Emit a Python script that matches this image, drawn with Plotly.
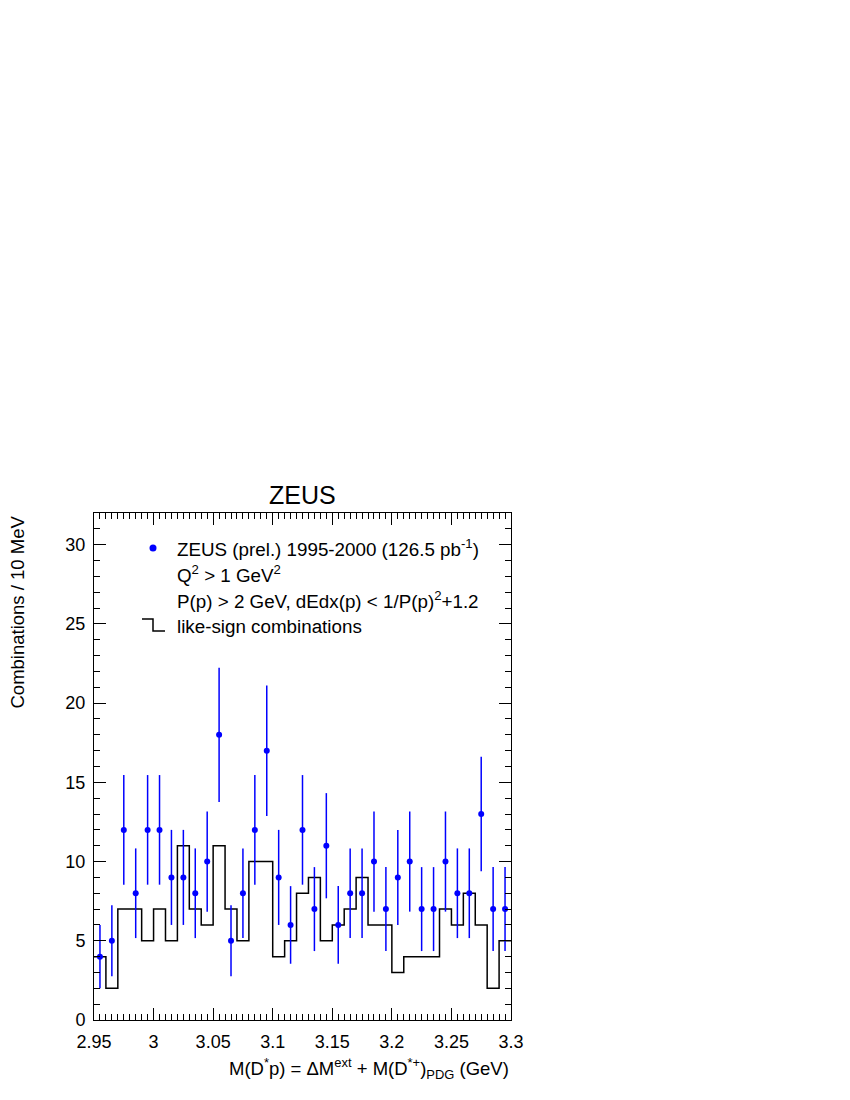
import numpy as np
import plotly.graph_objects as go

# ZEUS data points (bin centres, 10 MeV bins)
bin_centres = np.round(np.arange(2.955, 3.3, 0.01), 3)
counts = [4, 5, 12, 8, 12, 12, 9, 9, 8, 10, 18, 5, 8, 12, 17, 9, 6, 12,
          7, 11, 6, 8, 8, 10, 7, 9, 10, 7, 7, 10, 8, 8, 13, 7, 7]
errors = [2.0, 2.24, 3.46, 2.83, 3.46, 3.46, 3.0, 3.0, 2.83, 3.16, 4.24, 2.24,
          2.83, 3.46, 4.12, 3.0, 2.45, 3.46, 2.65, 3.32, 2.45, 2.83, 2.83, 3.16,
          2.65, 3.0, 3.16, 2.65, 2.65, 3.16, 2.83, 2.83, 3.61, 2.65, 2.65]

# like-sign combinations histogram
bin_edges = np.round(np.arange(2.95, 3.3001, 0.01), 3)
like_sign = [4, 2, 7, 7, 5, 7, 5, 11, 7, 6, 11, 7, 5, 10, 10, 4, 5, 8,
             9, 5, 6, 7, 9, 6, 6, 3, 4, 4, 4, 7, 6, 8, 6, 2, 5]

x_ticks = [2.95, 3.0, 3.05, 3.1, 3.15, 3.2, 3.25, 3.3]
x_ticklabels = ["2.95", "3", "3.05", "3.1", "3.15", "3.2", "3.25", "3.3"]

FONT = "Liberation Sans, Arial, Helvetica, sans-serif"
BLUE = "#0000ff"

# plot frame in page pixels (reference): left 94, right 511, top 513, bottom 1020
PX_L, PX_R, PX_T, PX_B = 94, 511, 513, 1020
W, H = PX_R - PX_L, PX_B - PX_T


def px(x):
    return (x - PX_L) / W


def py(y):
    return (PX_B - y) / H


fig = go.Figure()

fig.add_trace(go.Scatter(
    x=bin_edges, y=like_sign + [like_sign[-1]],
    mode="lines", line=dict(color="black", width=1.5, shape="hv"),
    showlegend=False, hoverinfo="skip",
))

fig.add_trace(go.Scatter(
    x=bin_centres, y=counts,
    mode="markers",
    marker=dict(color=BLUE, size=6),
    error_y=dict(type="data", array=errors, color=BLUE, thickness=1.5, width=0),
    showlegend=False,
))

axis_common = dict(
    showline=True, linecolor="black", linewidth=1, mirror="allticks",
    ticks="inside", tickcolor="black", showgrid=False, zeroline=False,
    tickfont=dict(family=FONT, size=18, color="black"),
)

fig.update_xaxes(
    range=[2.95, 3.3], tickvals=x_ticks, ticktext=x_ticklabels,
    ticklen=12, ticklabelstandoff=5,
    minor=dict(dtick=0.005, tick0=2.95, ticklen=6, ticks="inside", tickcolor="black"),
    **axis_common,
)
fig.update_yaxes(
    range=[0, 32], dtick=5, tick0=0, ticklen=12, ticklabelstandoff=4,
    minor=dict(dtick=1, ticklen=6, ticks="inside", tickcolor="black"),
    **axis_common,
)

# legend drawn by hand, ROOT style
legend_lines = [
    "ZEUS (prel.) 1995-2000 (126.5 pb<sup>-1</sup>)",
    "Q<sup>2</sup> > 1 GeV<sup>2</sup>",
    "P(p) > 2 GeV, dEdx(p) < 1/P(p)<sup>2</sup>+1.2",
    "like-sign combinations",
]
legend_y = [548, 574, 600, 626]
for txt, yp in zip(legend_lines, legend_y):
    fig.add_annotation(
        text=txt, xref="paper", yref="paper", x=px(175), y=py(yp),
        xanchor="left", yanchor="middle", showarrow=False,
        font=dict(family=FONT, size=18.8, color="black"),
    )

fig.add_shape(
    type="circle", xref="paper", yref="paper",
    x0=px(149.5), x1=px(156.5), y0=py(551.5), y1=py(544.5),
    fillcolor=BLUE, line=dict(color=BLUE, width=0),
)
fig.add_shape(
    type="path", xref="paper", yref="paper",
    path="M {a},{t} L {b},{t} L {b},{u} L {c},{u}".format(
        a=px(142), b=px(153), c=px(165), t=py(619), u=py(631)),
    line=dict(color="black", width=1.5),
)

fig.add_annotation(
    text="ZEUS", xref="paper", yref="paper", x=0.5, y=py(495),
    xanchor="center", yanchor="middle", showarrow=False,
    font=dict(family=FONT, size=25, color="black"),
)
fig.add_annotation(
    text="Combinations / 10 MeV", xref="paper", yref="paper",
    x=px(17), y=py(514), xanchor="center", yanchor="top",
    textangle=-90, showarrow=False,
    font=dict(family=FONT, size=18.5, color="black"),
)
fig.add_annotation(
    text="M(D<sup>*</sup>p) = ΔM<sup>ext</sup> + M(D<sup>*+</sup>)<sub>PDG</sub> (GeV)",
    xref="paper", yref="paper", x=1.0, y=py(1068),
    xanchor="right", yanchor="middle", showarrow=False,
    font=dict(family=FONT, size=18.5, color="black"),
)

# body margin of the html page shifts the figure by 8 px
fig.update_layout(
    width=850, height=1100,
    margin=dict(l=PX_L - 8, r=850 - PX_R + 8, t=PX_T - 8, b=1100 - PX_B + 8),
    plot_bgcolor="white", paper_bgcolor="white",
    font=dict(family=FONT, color="black"),
)

fig.write_html("out.html")
